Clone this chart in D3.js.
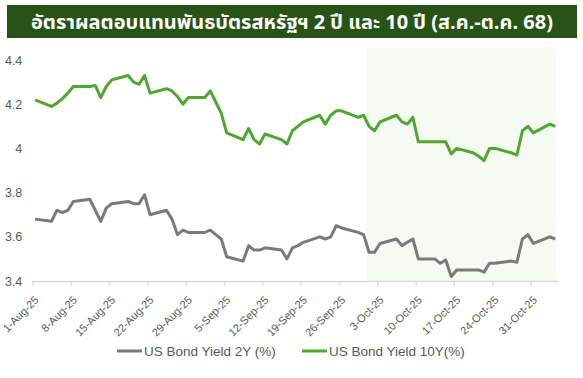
<!DOCTYPE html>
<html>
<head>
<meta charset="utf-8">
<script src="https://cdn.jsdelivr.net/npm/d3@7"></script>
<style>
  body { margin: 0; background: #fff; }
  svg { display: block; }
</style>
</head>
<body>
<div id="chart"></div>
<script>
// chart values
let dates = [
  "2025-08-01","2025-08-04","2025-08-05","2025-08-06","2025-08-07","2025-08-08",
  "2025-08-11","2025-08-12","2025-08-13","2025-08-14","2025-08-15",
  "2025-08-18","2025-08-19","2025-08-20","2025-08-21","2025-08-22",
  "2025-08-25","2025-08-26","2025-08-27","2025-08-28","2025-08-29",
  "2025-09-01","2025-09-02","2025-09-03","2025-09-04","2025-09-05",
  "2025-09-08","2025-09-09","2025-09-10","2025-09-11","2025-09-12",
  "2025-09-15","2025-09-16","2025-09-17","2025-09-18","2025-09-19",
  "2025-09-22","2025-09-23","2025-09-24","2025-09-25","2025-09-26",
  "2025-09-29","2025-09-30","2025-10-01","2025-10-02","2025-10-03",
  "2025-10-06","2025-10-07","2025-10-08","2025-10-09","2025-10-10",
  "2025-10-13","2025-10-14","2025-10-15","2025-10-16","2025-10-17",
  "2025-10-20","2025-10-21","2025-10-22","2025-10-23","2025-10-24",
  "2025-10-27","2025-10-28","2025-10-29","2025-10-30","2025-10-31",
  "2025-11-03","2025-11-04"
];

let yield2y = [
  3.68,3.67,3.72,3.71,3.72,3.76,
  3.77,3.72,3.67,3.73,3.75,
  3.76,3.75,3.75,3.79,3.70,
  3.72,3.68,3.61,3.63,3.62,
  3.62,3.63,3.61,3.59,3.51,
  3.49,3.56,3.54,3.54,3.55,
  3.54,3.50,3.55,3.56,3.575,
  3.60,3.59,3.60,3.65,3.64,
  3.62,3.61,3.53,3.53,3.57,
  3.59,3.56,3.575,3.59,3.50,
  3.50,3.48,3.495,3.42,3.45,
  3.45,3.45,3.44,3.48,3.48,
  3.49,3.485,3.59,3.61,3.57,
  3.60,3.59
];

let yield10y = [
  4.22,4.19,4.205,4.225,4.25,4.28,
  4.28,4.285,4.23,4.28,4.31,
  4.33,4.30,4.29,4.33,4.25,
  4.27,4.26,4.235,4.20,4.23,
  4.23,4.26,4.21,4.16,4.07,
  4.04,4.09,4.04,4.02,4.065,
  4.04,4.02,4.08,4.10,4.12,
  4.15,4.11,4.15,4.17,4.17,
  4.14,4.15,4.10,4.08,4.12,
  4.15,4.12,4.11,4.14,4.03,
  4.03,4.03,4.03,3.975,4.00,
  3.98,3.965,3.945,4.00,4.00,
  3.98,3.97,4.08,4.10,4.07,
  4.11,4.10
];

let tickDates = [
  "2025-08-01","2025-08-08","2025-08-15","2025-08-22","2025-08-29",
  "2025-09-05","2025-09-12","2025-09-19","2025-09-26",
  "2025-10-03","2025-10-10","2025-10-17","2025-10-24","2025-10-31"
];
let tickLabels = [
  "1-Aug-25","8-Aug-25","15-Aug-25","22-Aug-25","29-Aug-25",
  "5-Sep-25","12-Sep-25","19-Sep-25","26-Sep-25",
  "3-Oct-25","10-Oct-25","17-Oct-25","24-Oct-25","31-Oct-25"
];

let yTicks = [3.4, 3.6, 3.8, 4, 4.2, 4.4];

let seriesNames = ["US Bond Yield 2Y (%)", "US Bond Yield 10Y(%)"];
let highlightRange = ["2025-10-01", "2025-11-04"];
let axisRange = ["2025-08-01", "2025-11-05"];
let title = "อัตราผลตอบแทนพันธบัตรสหรัฐฯ 2 ปี และ 10 ปี (ส.ค.-ต.ค. 68)";

// size of the page and plot
let svgWidth = 583;
let svgHeight = 378;
let plot = { left: 32.3, right: 558, top: 47, bottom: 281 };

let colors = { y2: "#7a7a7a", y10: "#4ea72e", band: "#f5faf2", banner: "#275317", text: "#595959", axis: "#d9d9d9" };

let parse = d3.utcParse("%Y-%m-%d");
let halfDay = 12 * 3600 * 1000;

let rows = dates.map((d, i) => ({
  date: new Date(parse(d).getTime() + halfDay),
  y2: yield2y[i],
  y10: yield10y[i]
}));

let svg = d3.select("#chart")
  .append("svg")
  .attr("width", svgWidth)
  .attr("height", svgHeight)
  .style("font-family", "Arial, 'Liberation Sans', sans-serif");

// scales
let x = d3.scaleUtc()
  .domain(axisRange.map(parse))
  .range([plot.left, plot.right]);

let y = d3.scaleLinear()
  .domain([3.4, 4.4])
  .range([281, 60]);

// title banner
svg.append("rect")
  .attr("x", 7).attr("y", 5)
  .attr("width", 570).attr("height", 33)
  .attr("fill", colors.banner);

svg.append("text")
  .attr("x", 292).attr("y", 28.5)
  .attr("text-anchor", "middle")
  .attr("fill", "#fff")
  .attr("font-size", 20)
  .attr("font-weight", "bold")
  .attr("textLength", 522)
  .attr("lengthAdjust", "spacingAndGlyphs")
  .style("font-family", "Tahoma, 'Noto Sans Thai', 'Noto Sans', sans-serif")
  .text(title);

// shaded october band
svg.append("rect")
  .attr("x", x(parse(highlightRange[0])))
  .attr("y", plot.top)
  .attr("width", x(new Date(parse(highlightRange[1]).getTime() + 2 * halfDay)) - x(parse(highlightRange[0])) - 2)
  .attr("height", plot.bottom - plot.top)
  .attr("fill", colors.band);

// y axis labels (no line)
let yAxis = svg.append("g")
  .attr("transform", `translate(${plot.left}, 0)`)
  .call(d3.axisLeft(y).tickValues(yTicks).tickSize(0).tickPadding(10).tickFormat(d3.format("")));
yAxis.select(".domain").remove();
yAxis.selectAll("text")
  .attr("fill", colors.text)
  .attr("font-size", 12.5)
  .style("font-family", "Arial, 'Liberation Sans', sans-serif");

// x axis
let xAxis = svg.append("g")
  .attr("transform", `translate(0, ${plot.bottom})`)
  .call(d3.axisBottom(x)
    .tickValues(tickDates.map(parse))
    .tickSize(5)
    .tickSizeOuter(0)
    .tickFormat((d, i) => tickLabels[i]));
xAxis.select(".domain").attr("stroke", colors.axis).attr("stroke-width", 1.3);
xAxis.selectAll(".tick line").attr("stroke", colors.axis).attr("stroke-width", 1.3);
xAxis.selectAll("text")
  .attr("fill", colors.text)
  .attr("font-size", 11)
  .style("font-family", "Arial, 'Liberation Sans', sans-serif")
  .attr("text-anchor", "end")
  .attr("y", 8)
  .attr("dy", 0)
  .attr("transform", "translate(1, 14) rotate(-45)");

// lines
let line2 = d3.line().x(d => x(d.date)).y(d => y(d.y2));
let line10 = d3.line().x(d => x(d.date)).y(d => y(d.y10));

svg.append("path")
  .datum(rows)
  .attr("d", line2)
  .attr("fill", "none")
  .attr("stroke", colors.y2)
  .attr("stroke-width", 3)
  .attr("stroke-linejoin", "round");

svg.append("path")
  .datum(rows)
  .attr("d", line10)
  .attr("fill", "none")
  .attr("stroke", colors.y10)
  .attr("stroke-width", 3)
  .attr("stroke-linejoin", "round");

// legend
let legend = svg.append("g").attr("transform", "translate(0, 351)");
let legendItems = [
  { name: seriesNames[0], color: colors.y2, x: 117 },
  { name: seriesNames[1], color: colors.y10, x: 302 }
];
legendItems.forEach(item => {
  legend.append("line")
    .attr("x1", item.x).attr("x2", item.x + 25)
    .attr("y1", 0).attr("y2", 0)
    .attr("stroke", item.color)
    .attr("stroke-width", 3);
  legend.append("text")
    .attr("x", item.x + 27)
    .attr("y", 5)
    .attr("fill", colors.text)
    .attr("font-size", 13.5)
    .style("font-family", "'Liberation Sans Narrow', Arial, sans-serif")
    .text(item.name);
});
</script>
</body>
</html>
